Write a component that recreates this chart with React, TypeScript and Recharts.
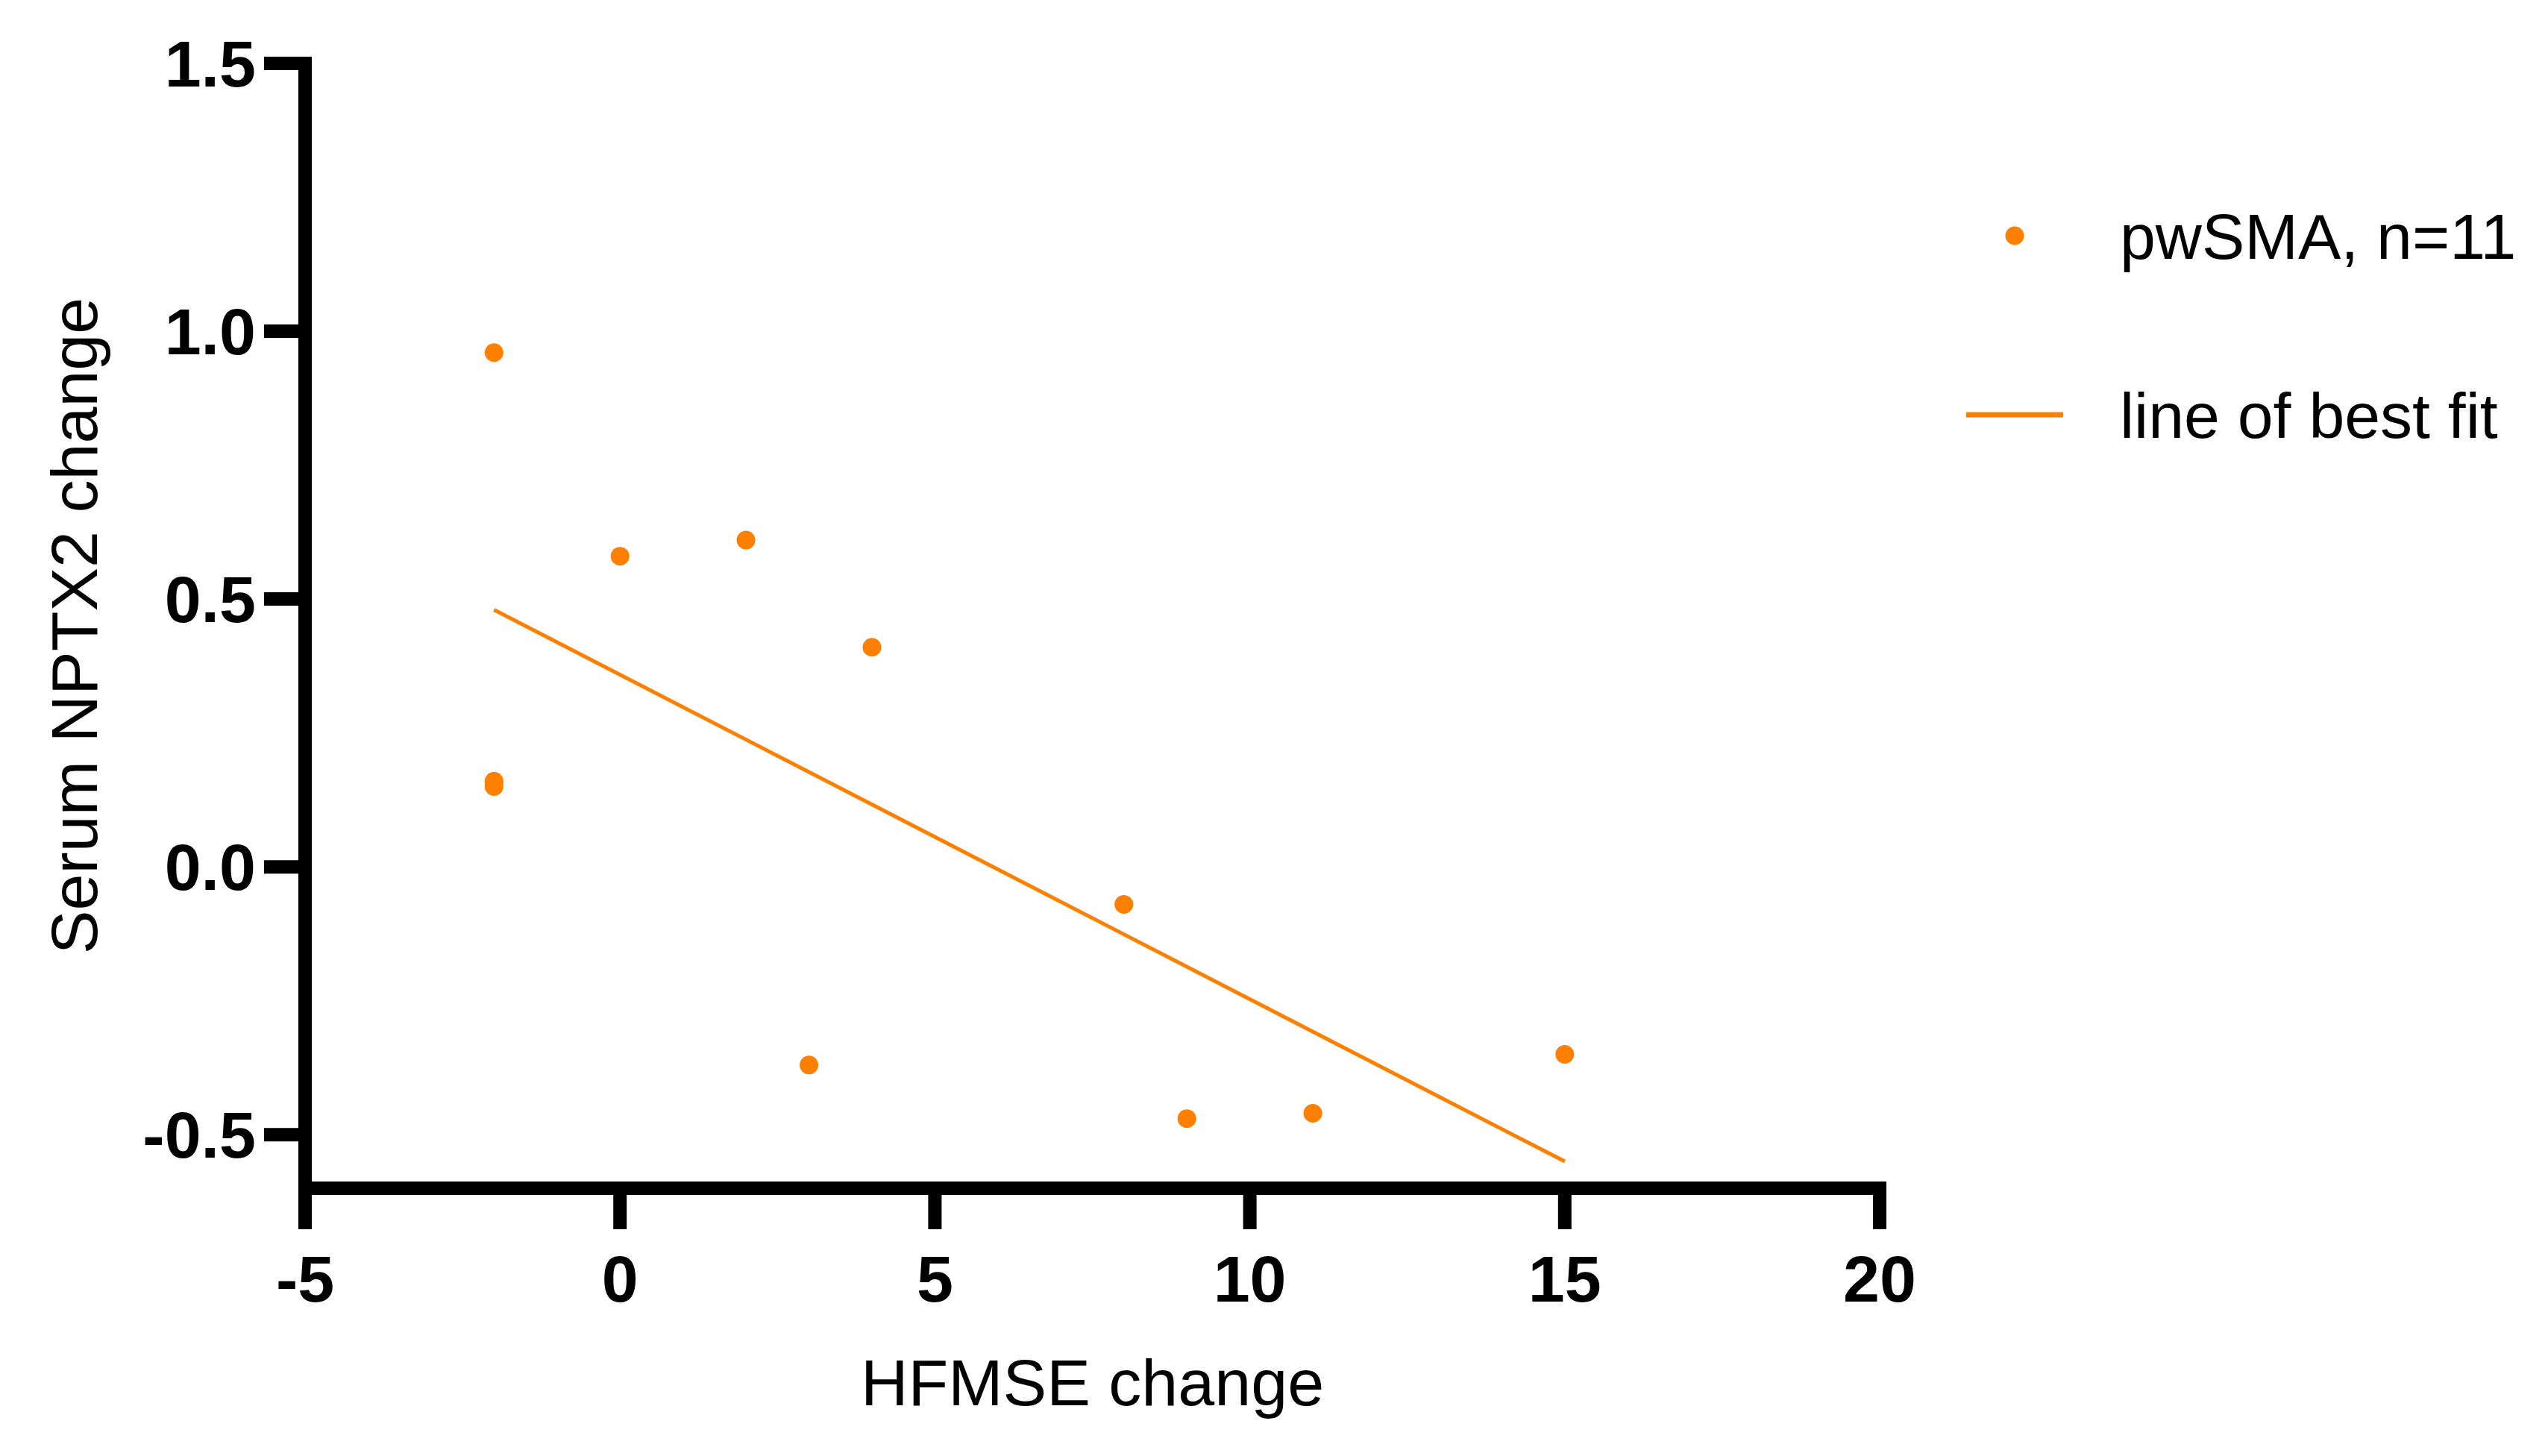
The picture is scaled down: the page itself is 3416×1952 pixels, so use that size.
import React from 'react';
import { ScatterChart, Scatter, XAxis, YAxis, Legend } from 'recharts';

// HFMSE change (x) vs serum NPTX2 change (y)
const hfmseChange = [-2, -2, -2, 0, 2, 3, 4, 8, 9, 11, 15];
const nptx2Change = [0.96, 0.16, 0.15, 0.58, 0.61, -0.37, 0.41, -0.07, -0.47, -0.46, -0.35];

// line of best fit, end points
const fitX = [-2, 15];
const fitY = [0.48, -0.55];

const xTicks = [-5, 0, 5, 10, 15, 20];
const yTicks = [-0.5, 0, 0.5, 1, 1.5];

const ORANGE = '#FF8000';
const FONT = '"Liberation Sans", Arial, Helvetica, sans-serif';

const points = hfmseChange.map((x, i) => ({ x, y: nptx2Change[i] }));
const fitPoints = fitX.map((x, i) => ({ x, y: fitY[i] }));

const Dot = (props: any) => {
  const { cx, cy } = props;
  if (cx == null || cy == null) return <g />;
  return <circle cx={cx} cy={cy} r={12.5} fill={ORANGE} />;
};

const renderLegend = (props: any) => {
  const { payload = [] } = props;
  // dots first, then the fit line
  const items = [...payload].sort(
    (a: any, b: any) => (a.type === 'line' ? 1 : 0) - (b.type === 'line' ? 1 : 0)
  );
  return (
    <svg width={796} height={420} style={{ display: 'block' }}>
      {items.map((entry: any, i: number) => {
        const cy = 86 + i * 240;
        return (
          <g key={`legend-${i}`}>
            {entry.type === 'line' ? (
              <line x1={16} x2={146} y1={cy} y2={cy} stroke={entry.color} strokeWidth={7} />
            ) : (
              <circle cx={81} cy={cy} r={12.5} fill={entry.color} />
            )}
            <text x={222} y={cy + 31} fontSize={86} fontFamily={FONT} fill="#000">
              {entry.value}
            </text>
          </g>
        );
      })}
    </svg>
  );
};

const App = () => {
  return (
    <div style={{ position: 'absolute', left: 0, top: 0, background: '#fff' }}>
      <ScatterChart
        width={3416}
        height={1952}
        margin={{ top: 85, right: 896, bottom: 0, left: 0 }}
      >
        <XAxis
          type="number"
          dataKey="x"
          domain={[-5, 20]}
          ticks={xTicks}
          height={359}
          tickSize={55}
          tickMargin={35}
          axisLine={{ stroke: '#000', strokeWidth: 18, strokeLinecap: 'square' }}
          tickLine={{ stroke: '#000', strokeWidth: 18 }}
          tick={{ fill: '#000', fontSize: 88, fontWeight: 700, fontFamily: FONT }}
          label={{
            value: 'HFMSE change',
            position: 'insideBottom',
            offset: 68,
            style: { fill: '#000', fontSize: 88, fontFamily: FONT },
          }}
        />
        <YAxis
          type="number"
          dataKey="y"
          domain={[-0.6, 1.5]}
          ticks={yTicks}
          width={409}
          tickSize={55}
          tickMargin={11}
          tickFormatter={(v: number) => v.toFixed(1)}
          axisLine={{ stroke: '#000', strokeWidth: 18, strokeLinecap: 'square' }}
          tickLine={{ stroke: '#000', strokeWidth: 18 }}
          tick={{ fill: '#000', fontSize: 88, fontWeight: 700, fontFamily: FONT }}
          label={{
            value: 'Serum NPTX2 change',
            angle: -90,
            position: 'insideLeft',
            offset: 99,
            style: { fill: '#000', fontSize: 88, fontFamily: FONT, textAnchor: 'middle' },
          }}
        />
        <Legend
          layout="vertical"
          align="center"
          verticalAlign="middle"
          content={renderLegend}
          wrapperStyle={{ left: 2620, top: 230, width: 796, height: 420 }}
        />
        <Scatter
          name="pwSMA, n=11"
          data={points}
          fill={ORANGE}
          legendType="circle"
          shape={Dot}
          isAnimationActive={false}
        />
        <Scatter
          name="line of best fit"
          data={fitPoints}
          fill={ORANGE}
          legendType="line"
          line={{ stroke: ORANGE, strokeWidth: 5 }}
          shape={() => <g />}
          isAnimationActive={false}
        />
      </ScatterChart>
    </div>
  );
};

export default App;
